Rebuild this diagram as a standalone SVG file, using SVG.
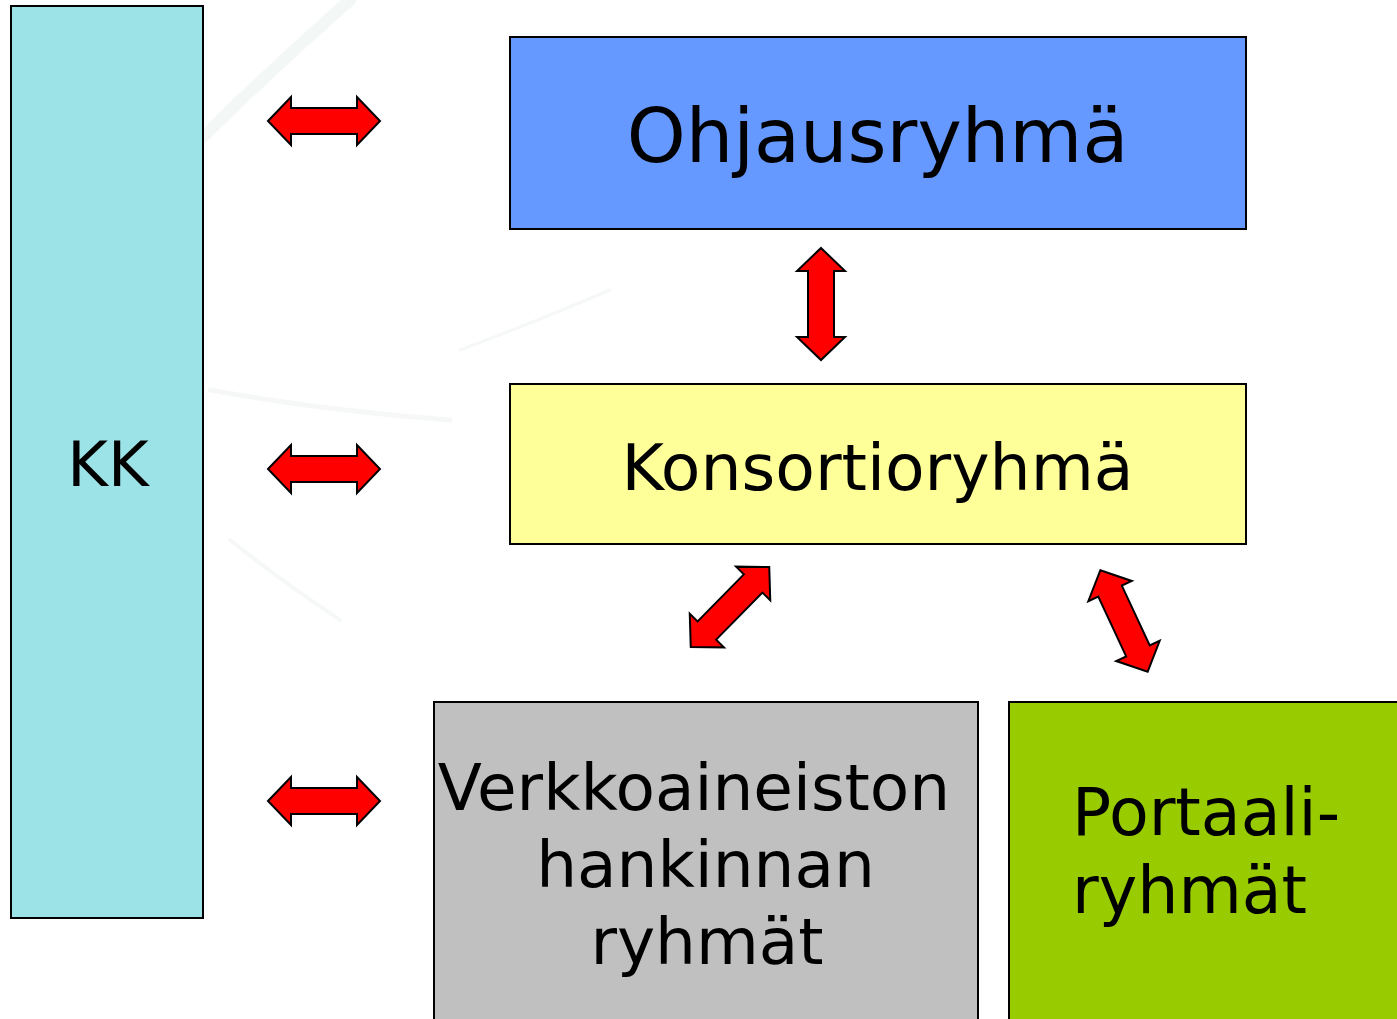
<svg xmlns="http://www.w3.org/2000/svg" xmlns:xlink="http://www.w3.org/1999/xlink" width="1397" height="1019" viewBox="0 0 1397 1019">
  <style>
    .box { stroke: #000; stroke-width: 2; }
    .lbl { font-family: "DejaVu Sans", Verdana, sans-serif; fill: #000; }
    .mid { text-anchor: middle; }
    .arrow { fill: #FF0000; stroke: #000; stroke-width: 2; stroke-linejoin: miter; }
    .bg { fill: none; stroke: #eef3f1; stroke-linecap: round; }
  </style>
  <defs>
    <path id="arr" d="M -56 0 L -33 -24 L -33 -13 L 33 -13 L 33 -24 L 56 0 L 33 24 L 33 13 L -33 13 L -33 24 Z"/>
  </defs>
  <rect width="1397" height="1019" fill="#ffffff"/>
  <g id="background">
    <path class="bg" stroke-width="12" opacity="0.7" d="M 200 140 Q 260 80 350 0"/>
    <path class="bg" stroke-width="5" opacity="0.6" d="M 210 390 Q 320 410 450 420"/>
    <path class="bg" stroke-width="4" opacity="0.6" d="M 230 540 Q 280 580 340 620"/>
    <path class="bg" stroke-width="3" opacity="0.6" d="M 460 350 Q 540 320 610 290"/>
  </g>
  <g id="node-kk">
    <rect class="box" x="11" y="6" width="192" height="912" fill="#9BE3E6"/>
    <text class="lbl mid" x="108" y="486" font-size="62">KK</text>
  </g>
  <g id="node-ohjausryhma">
    <rect class="box" x="510" y="37" width="736" height="192" fill="#6699FF"/>
    <text class="lbl mid" x="877.5" y="162" font-size="75">Ohjausryhmä</text>
  </g>
  <g id="node-konsortioryhma">
    <rect class="box" x="510" y="384" width="736" height="160" fill="#FFFF99"/>
    <text class="lbl mid" x="877.5" y="490" font-size="64.8">Konsortioryhmä</text>
  </g>
  <g id="node-verkkoaineisto">
    <rect class="box" x="434" y="702" width="544" height="330" fill="#C0C0C0"/>
    <text class="lbl mid" x="694" y="810" font-size="64.5">Verkkoaineiston</text>
    <text class="lbl mid" x="705.5" y="887" font-size="64.5">hankinnan</text>
    <text class="lbl mid" x="707" y="964" font-size="64.5">ryhmät</text>
  </g>
  <g id="node-portaali">
    <rect class="box" x="1009" y="702" width="400" height="330" fill="#99CC00"/>
    <text class="lbl" x="1072" y="835" font-size="65">Portaali-</text>
    <text class="lbl" x="1072" y="913" font-size="65">ryhmät</text>
  </g>
  <g id="connectors">
    <use xlink:href="#arr" href="#arr" class="arrow" transform="translate(324,121)"/>
    <use xlink:href="#arr" href="#arr" class="arrow" transform="translate(324,469)"/>
    <use xlink:href="#arr" href="#arr" class="arrow" transform="translate(324,801)"/>
    <use xlink:href="#arr" href="#arr" class="arrow" transform="translate(821,304) rotate(90)"/>
    <use xlink:href="#arr" href="#arr" class="arrow" transform="translate(730,607) rotate(-45.5)"/>
    <use xlink:href="#arr" href="#arr" class="arrow" transform="translate(1124,621) rotate(65)"/>
  </g>
</svg>
